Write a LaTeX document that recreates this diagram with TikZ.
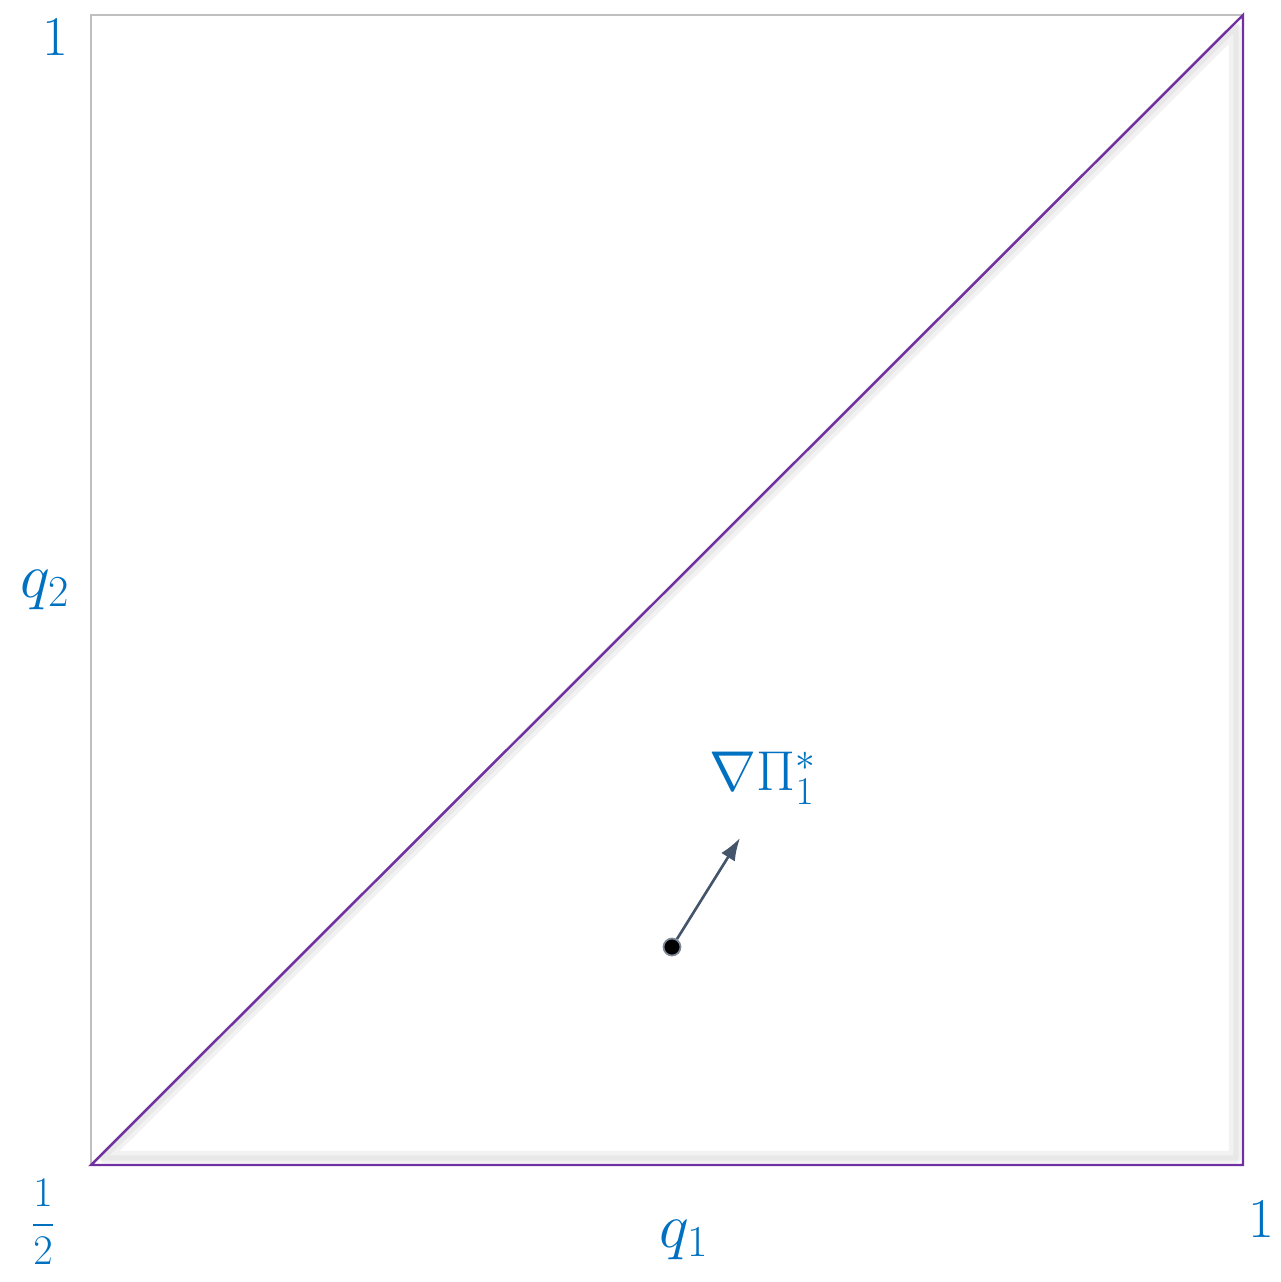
\RequirePackage{fix-cm}
\documentclass[tikz,border=0pt]{standalone}
\usepackage{amsmath}
\usetikzlibrary{arrows.meta}
\definecolor{lblblue}{HTML}{0070C0}
\definecolor{edgepurple}{HTML}{7030A0}
\definecolor{framegrey}{HTML}{BFBFBF}
\definecolor{slate}{HTML}{44546A}

\begin{document}
\begin{tikzpicture}[
  x=0.02cm, y=-0.02cm,
  lbl/.style={text=lblblue, font=\fontsize{32}{38}\selectfont, inner sep=0pt},
  edge/.style={edgepurple, line width=1.4pt, line join=miter},
  shade/.style={black!5, line width=7pt, line join=round},
  arr/.style={-{Latex[length=0.45cm, width=0.32cm]}, slate, line width=1.5pt}
]
\useasboundingbox (0,0) rectangle (1281,1282);
% corners of the unit square
\coordinate (ll) at (91,1165);
\coordinate (ur) at (1243,15);
\coordinate (lr) at (1243,1165);
\coordinate (ul) at (91,15);
\draw[framegrey, line width=0.8pt] (ll) -- (ul) -- (ur);
% soft shadow of the triangle
\draw[shade] ([shift={(14,-8)}]ll) -- ([shift={(-8,14)}]ur) -- ([shift={(-8,-8)}]lr) -- cycle;
\draw[shade, black!9, line width=3pt] ([shift={(12,-7)}]ll) -- ([shift={(-7,12)}]ur) -- ([shift={(-7,-7)}]lr) -- cycle;
\draw[edge] (ll) -- (ur) -- (lr) -- cycle;
% axis labels
\node[lbl] (top) at (55,37) {$1$};
\node[lbl, font=\fontsize{36}{42}\selectfont] (qtwo) at (45,590) {$q_2$};
\node[lbl, font=\fontsize{24}{28}\selectfont] (half) at (43,1222) {$\dfrac{1}{2}$};
\node[lbl, font=\fontsize{36}{42}\selectfont] (qone) at (684,1240) {$q_1$};
\node[lbl] (right) at (1261,1219) {$1$};
% gradient at the optimum
\node[circle, fill=black, draw=slate!70, line width=1pt, minimum size=0.34cm, inner sep=0pt] (opt) at (672,947) {};
\coordinate (tip) at (740,838);
\draw[arr] (opt) -- (tip);
\node[lbl] (grad) at (763,778) {$\nabla\Pi_1^*$};
\end{tikzpicture}
\end{document}
